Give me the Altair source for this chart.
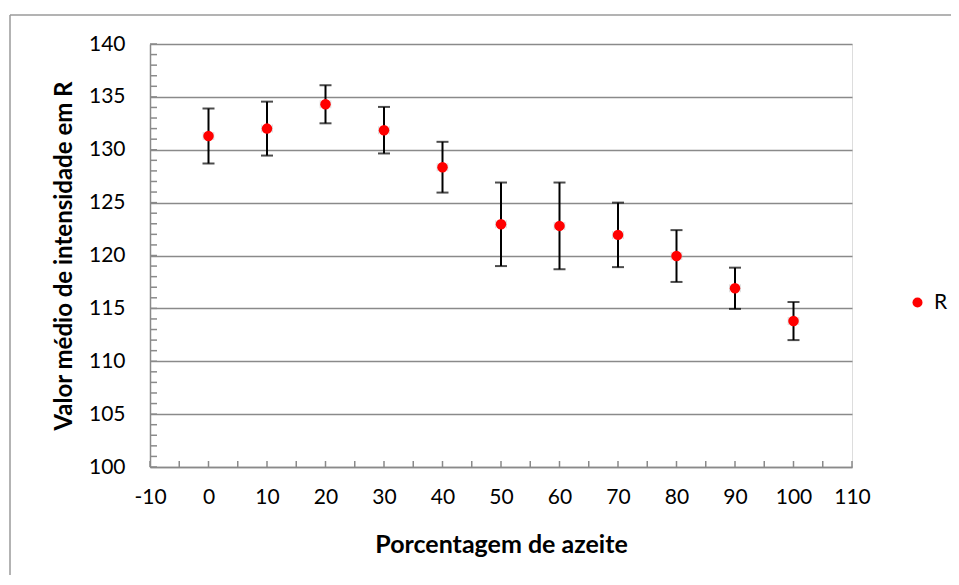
import altair as alt
import pandas as pd

# ---- data ----
pct = [0, 10, 20, 30, 40, 50, 60, 70, 80, 90, 100]
r_mean = [131.3, 132.0, 134.3, 131.85, 128.35, 122.95, 122.8, 121.95, 119.95, 116.9, 113.8]
r_err = [2.6, 2.55, 1.8, 2.2, 2.4, 3.95, 4.1, 3.05, 2.45, 1.95, 1.8]
x_err = [0.9] * 11
series_name = ["R"] * 11

x_tick_labels = list(range(-10, 111, 10))
y_tick_labels = list(range(100, 141, 5))
x_minor = list(range(-10, 111, 5))
y_minor = list(range(100, 141, 1))

FONT = "Lato"
GRAY = "#8a8a8a"

df = pd.DataFrame({
    "pct": pct, "mean": r_mean, "err": r_err, "xerr": x_err, "serie": series_name,
})
df["lo"] = df["mean"] - df["err"]
df["hi"] = df["mean"] + df["err"]
df["xlo"] = df["pct"] - df["xerr"]
df["xhi"] = df["pct"] + df["xerr"]

xscale = alt.Scale(domain=[-10, 110], nice=False, zero=False)
yscale = alt.Scale(domain=[100, 140], nice=False, zero=False)

X = alt.X("pct:Q", scale=xscale, title="Porcentagem de azeite",
          axis=alt.Axis(values=x_tick_labels, ticks=False, grid=False, domainColor=GRAY,
                        domainWidth=1.5, labelFont=FONT, labelFontSize=21, labelColor="black",
                        labelPadding=19, labelExpr="'' + datum.value",
                        titleFont=FONT, titleFontSize=25, titleFontWeight="bold",
                        titleColor="black", titlePadding=25, labelFlush=False))
Y = alt.Y("mean:Q", scale=yscale, title="Valor médio de intensidade em R",
          axis=alt.Axis(values=y_tick_labels, ticks=False, grid=True, gridColor=GRAY,
                        gridWidth=1.5, domainColor=GRAY, domainWidth=1.5, labelFont=FONT,
                        labelFontSize=21, labelColor="black", labelPadding=25,
                        titleFont=FONT, titleFontSize=24, titleFontWeight="bold",
                        titleColor="black", titlePadding=12, labelFlush=False))

base = alt.Chart(df)

# minor ticks (inside)
ymin_df = pd.DataFrame({"v": y_minor})
xmin_df = pd.DataFrame({"v": x_minor})
y_ticks = alt.Chart(ymin_df).mark_rule(color=GRAY, strokeWidth=1.5).encode(
    y=alt.Y("v:Q", scale=yscale), x=alt.value(0), x2=alt.value(7))
x_ticks = alt.Chart(xmin_df).mark_rule(color=GRAY, strokeWidth=1.5).encode(
    x=alt.X("v:Q", scale=xscale), y=alt.value(423), y2=alt.value(417))

# outer border of the chart frame
frame_df = pd.DataFrame({"a": [0]})
frame_top = alt.Chart(frame_df).mark_rule(color="#9a9a9a", strokeWidth=1.5, clip=False).encode(
    x=alt.value(-140), x2=alt.value(900), y=alt.value(-29))
frame_left = alt.Chart(frame_df).mark_rule(color="#9a9a9a", strokeWidth=1.5, clip=False).encode(
    x=alt.value(-140), y=alt.value(-29), y2=alt.value(600))

main = base.mark_circle(size=0, opacity=0).encode(x=X, y=Y)

xerr_caps_l = base.mark_tick(orient="vertical", size=8, thickness=1, color="#c8c8c8").encode(
    x=alt.X("xlo:Q", scale=xscale), y=alt.Y("mean:Q", scale=yscale))
xerr_caps_r = base.mark_tick(orient="vertical", size=8, thickness=1, color="#c8c8c8").encode(
    x=alt.X("xhi:Q", scale=xscale), y=alt.Y("mean:Q", scale=yscale))

err_rule = base.mark_rule(color="black", strokeWidth=2).encode(
    x=alt.X("pct:Q", scale=xscale), y=alt.Y("lo:Q", scale=yscale), y2="hi:Q")
cap_lo = base.mark_tick(orient="horizontal", size=12, thickness=2, color="black").encode(
    x=alt.X("pct:Q", scale=xscale), y=alt.Y("lo:Q", scale=yscale))
cap_hi = base.mark_tick(orient="horizontal", size=12, thickness=2, color="black").encode(
    x=alt.X("pct:Q", scale=xscale), y=alt.Y("hi:Q", scale=yscale))

points = base.mark_circle(size=110, opacity=1).encode(
    x=alt.X("pct:Q", scale=xscale), y=alt.Y("mean:Q", scale=yscale),
    color=alt.Color("serie:N", scale=alt.Scale(range=["#ff0000"]),
                    legend=alt.Legend(title=None, orient="none", legendX=757, legendY=248,
                                      labelFont=FONT, labelFontSize=21, labelColor="black",
                                      symbolSize=100, symbolType="circle", symbolStrokeWidth=0,
                                      labelOffset=6)))

chart = alt.layer(
    main, frame_top, frame_left, y_ticks, x_ticks, xerr_caps_l, xerr_caps_r,
    err_rule, cap_lo, cap_hi, points
).properties(
    width=702, height=423,
    autosize=alt.AutoSizeParams(type="none"),
    padding={"left": 142, "top": 36, "right": 99, "bottom": 108},
).configure_view(stroke=None).configure(background="white")

chart.save("out.html", embed_options={"renderer": "svg", "actions": False})
